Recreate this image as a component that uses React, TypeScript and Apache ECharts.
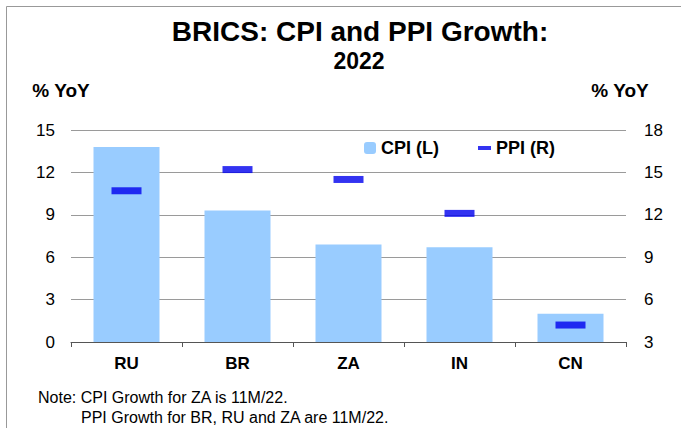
import React, { useEffect, useRef } from "react";
import * as echarts from "echarts";

const categories = ["RU", "BR", "ZA", "IN", "CN"];
const cpiValues = [13.8, 9.3, 6.9, 6.7, 2.0];
const ppiValues = [13.7, 15.2, 14.5, 12.1, 4.2];
const leftTicks = { min: 0, max: 15, interval: 3 };
const rightTicks = { min: 3, max: 18, interval: 3 };
const titleText = "BRICS: CPI and PPI Growth:";
const subtitleText = "2022";
const axisUnit = "% YoY";
const noteLines = [
  "Note: CPI Growth for ZA is 11M/22.",
  "PPI Growth for BR, RU and ZA are 11M/22.",
];

const FONT = "'Liberation Sans', Arial, sans-serif";

export default function App() {
  const ref = useRef<HTMLDivElement>(null);
  useEffect(() => {
    if (!ref.current) return;
    const chart = echarts.init(ref.current, null, { renderer: "svg" });
    chart.setOption({
      animation: false,
      backgroundColor: "#ffffff",
      textStyle: { fontFamily: FONT },
      legend: [
        {
          data: ["CPI (L)"],
          left: 359,
          top: 134,
          itemWidth: 12,
          itemHeight: 12,
          textStyle: { fontSize: 18, fontWeight: "bold", color: "#000", fontFamily: FONT },
        },
        {
          data: ["PPI (R)"],
          left: 473,
          top: 134,
          itemWidth: 13,
          itemHeight: 4,
          textStyle: { fontSize: 18, fontWeight: "bold", color: "#000", fontFamily: FONT },
        },
      ],
      grid: { left: 71, right: 55, top: 130, bottom: 86, containLabel: false },
      xAxis: {
        type: "category",
        data: categories,
        axisLine: { lineStyle: { color: "#555", width: 1 } },
        axisTick: { show: true, length: 5, lineStyle: { color: "#555" } },
        axisLabel: { fontSize: 17, fontWeight: "bold", color: "#000", margin: 13, fontFamily: FONT },
      },
      yAxis: [
        {
          type: "value",
          min: leftTicks.min,
          max: leftTicks.max,
          interval: leftTicks.interval,
          axisLine: { show: false },
          axisTick: { show: false },
          splitLine: { lineStyle: { color: "#9a9a9a", width: 1 } },
          axisLabel: { fontSize: 17, color: "#000", margin: 16, fontFamily: FONT },
        },
        {
          type: "value",
          min: rightTicks.min,
          max: rightTicks.max,
          interval: rightTicks.interval,
          axisLine: { show: false },
          axisTick: { show: false },
          splitLine: { show: false },
          axisLabel: { fontSize: 17, color: "#000", margin: 18, fontFamily: FONT },
        },
      ],
      series: [
        {
          name: "CPI (L)",
          type: "bar",
          data: cpiValues,
          barWidth: 66,
          itemStyle: { color: "#99CCFF" },
          yAxisIndex: 0,
          z: 2,
        },
        {
          name: "PPI (R)",
          type: "scatter",
          data: ppiValues,
          yAxisIndex: 1,
          symbol: "rect",
          symbolSize: [30, 7],
          itemStyle: { color: "#0000EE" },
          z: 3,
        },
      ],
      graphic: [
        { type: "line", shape: { x1: 6.5, y1: 6.5, x2: 681, y2: 6.5 }, style: { stroke: "#999", lineWidth: 1 } },
        { type: "line", shape: { x1: 6.5, y1: 6.5, x2: 6.5, y2: 428 }, style: { stroke: "#999", lineWidth: 1 } },
        {
          type: "text",
          x: 360,
          y: 31,
          style: { text: titleText, align: "center", verticalAlign: "middle", fontSize: 28, fontWeight: "bold", fill: "#000", fontFamily: FONT },
        },
        {
          type: "text",
          x: 359,
          y: 60.5,
          style: { text: subtitleText, align: "center", verticalAlign: "middle", fontSize: 23, fontWeight: "bold", fill: "#000", fontFamily: FONT },
        },
        {
          type: "text",
          x: 61,
          y: 90,
          style: { text: axisUnit, align: "center", verticalAlign: "middle", fontSize: 19, fontWeight: "bold", fill: "#000", fontFamily: FONT },
        },
        {
          type: "text",
          x: 620,
          y: 90,
          style: { text: axisUnit, align: "center", verticalAlign: "middle", fontSize: 19, fontWeight: "bold", fill: "#000", fontFamily: FONT },
        },
        {
          type: "text",
          x: 38,
          y: 397,
          style: { text: noteLines[0], align: "left", verticalAlign: "middle", fontSize: 16, fill: "#000", fontFamily: FONT },
        },
        {
          type: "text",
          x: 81,
          y: 417,
          style: { text: noteLines[1], align: "left", verticalAlign: "middle", fontSize: 16, fill: "#000", fontFamily: FONT },
        },
      ],
    });
    return () => chart.dispose();
  }, []);
  return <div ref={ref} style={{ position: "absolute", left: 0, top: 0, width: 681, height: 428 }} />;
}
